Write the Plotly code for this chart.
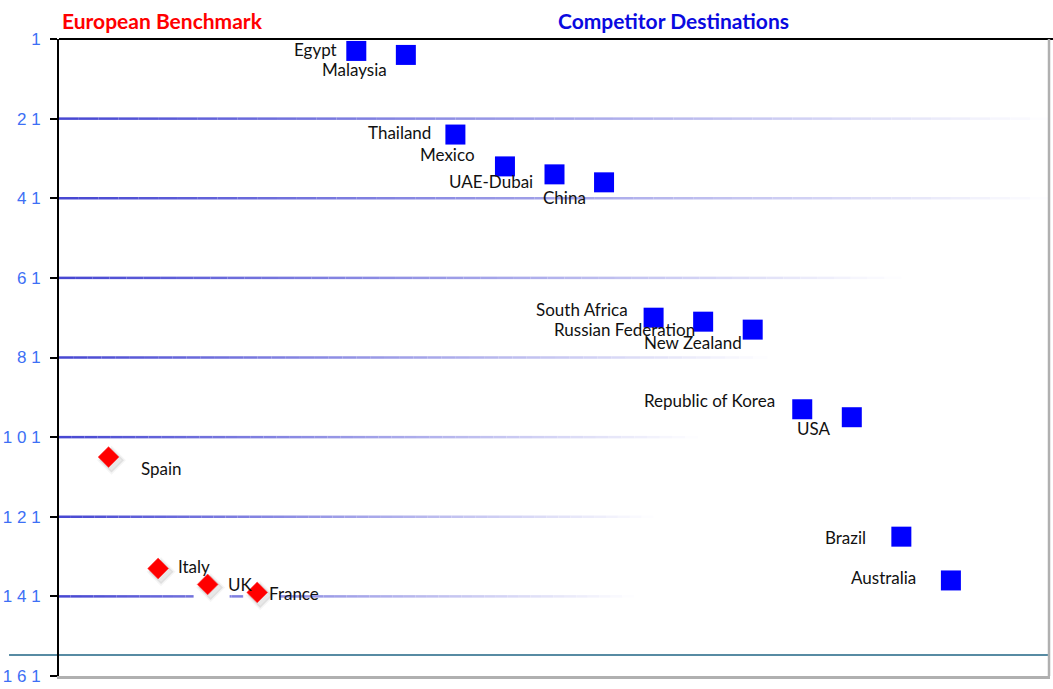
import plotly.graph_objects as go

# European benchmark destinations
eu_names = ["Spain", "Italy", "UK", "France"]
eu_pos = [1, 2, 3, 4]
eu_rank = [106, 134, 138, 140]

# Competitor destinations
comp_names = ["Egypt", "Malaysia", "Thailand", "Mexico", "UAE-Dubai", "China",
               "South Africa", "Russian Federation", "New Zealand",
               "Republic of Korea", "USA", "Brazil", "Australia"]
comp_pos = [6, 7, 8, 9, 10, 11, 12, 13, 14, 15, 16, 17, 18]
comp_rank = [4, 5, 25, 33, 35, 37, 71, 72, 74, 94, 96, 126, 137]

# Rank axis
tick_vals = [1, 21, 41, 61, 81, 101, 121, 141, 161]
tick_text = ["1", "2 1", "4 1", "6 1", "8 1", "1 0 1", "1 2 1", "1 4 1", "1 6 1"]
grid_vals = [21, 41, 61, 81, 101, 121, 141]
grid_ends = [20, 20, 17.0, 14.3, 12.9, 12.0, 11.6]
cutoff_rank = 155.75

# label placement (pixel shifts, anchor side)
comp_label_shift = [(-17, 1), (-17, -15), (-22, 2), (-28, 12), (-20, -7), (-16, -15),
                    (-24, 8), (-6, -8), (-9, -13), (-25, 9), (-19, -11), (-33, -1), (-33, 3)]
eu_label_shift = [(30, -11), (18, 2), (18, 0), (10, -1)]

X_MAX = 20
fig = go.Figure()

# gradient grid lines: dark blue fading to white along each line
shapes = []
n_seg = 50
c0 = (70, 70, 210)
for v, xe in zip(grid_vals, grid_ends):
    for i in range(n_seg):
        t0 = i / n_seg
        t1 = (i + 1) / n_seg
        tm = (t0 + t1) / 2
        col = tuple(int(round(c + (255 - c) * tm)) for c in c0)
        shapes.append(dict(type="line", xref="x", yref="y", layer="below",
                           x0=xe * t0, x1=xe * t1, y0=v, y1=v,
                           line=dict(color="rgb(%d,%d,%d)" % col, width=2.5)))

# cutoff line reaching into the left margin
shapes.append(dict(type="line", xref="paper", yref="y", x0=-0.0504, x1=1.0,
                   y0=cutoff_rank, y1=cutoff_rank, layer="below",
                   line=dict(color="#1f6485", width=1.5)))
# frame: black top, grey right
shapes.append(dict(type="line", xref="paper", yref="paper", x0=0, x1=1.003, y0=1, y1=1,
                   line=dict(color="black", width=2)))
shapes.append(dict(type="line", xref="paper", yref="paper", x0=0.999, x1=0.999, y0=0, y1=1,
                   line=dict(color="#b0b0b0", width=2.5)))

# white backing tiles behind the diamonds
fig.add_trace(go.Scatter(x=[p + 0.08 for p in eu_pos], y=eu_rank, mode="markers",
                         marker=dict(symbol="square", size=36, color="white"),
                         hoverinfo="skip", showlegend=False))
# soft shadow of diamonds
fig.add_trace(go.Scatter(x=[p + 0.06 for p in eu_pos], y=[r + 0.8 for r in eu_rank],
                         mode="markers",
                         marker=dict(symbol="diamond", size=19, color="rgba(90,90,90,0.14)",
                                     line=dict(width=3, color="rgba(120,120,120,0.07)")),
                         hoverinfo="skip", showlegend=False))
fig.add_trace(go.Scatter(x=eu_pos, y=eu_rank, mode="markers", name="European Benchmark",
                         marker=dict(symbol="diamond", size=16, color="#ff0000",
                                     line=dict(width=1, color="rgba(255,60,60,0.6)")),
                         showlegend=False))
fig.add_trace(go.Scatter(x=comp_pos, y=comp_rank, mode="markers", name="Competitor Destinations",
                         marker=dict(symbol="square", size=20, color="#0000ff",
                                     line=dict(width=0)),
                         showlegend=False))

annotations = []
label_font = dict(family="Lato", size=17, color="#111111")
for name, x, y, (dx, dy) in zip(comp_names, comp_pos, comp_rank, comp_label_shift):
    annotations.append(dict(x=x, y=y, xref="x", yref="y", text=name, showarrow=False,
                            xanchor="right", yanchor="middle", xshift=dx, yshift=dy,
                            font=label_font))
for name, x, y, (dx, dy) in zip(eu_names, eu_pos, eu_rank, eu_label_shift):
    annotations.append(dict(x=x, y=y, xref="x", yref="y", text=name, showarrow=False,
                            xanchor="left", yanchor="middle", xshift=dx, yshift=dy,
                            font=label_font))

annotations.append(dict(x=0.1048, y=1.0297, xref="paper", yref="paper",
                        text="<b>European Benchmark</b>", showarrow=False,
                        xanchor="center", yanchor="middle",
                        font=dict(family="Lato", size=21, color="#ff0000")))
annotations.append(dict(x=0.62, y=1.0297, xref="paper", yref="paper",
                        text="<b>Competitor Destinations</b>", showarrow=False,
                        xanchor="center", yanchor="middle",
                        font=dict(family="Lato", size=21, color="#0a0ae0")))

fig.update_layout(
    width=1053, height=689,
    margin=dict(l=58, r=3, t=39, b=10),
    paper_bgcolor="white", plot_bgcolor="white",
    shapes=shapes, annotations=annotations,
    xaxis=dict(range=[0, X_MAX], showgrid=False, zeroline=False, showticklabels=False,
               ticks="", showline=True, linecolor="#b0b0b0", linewidth=3),
    yaxis=dict(range=[161, 1], showgrid=False, zeroline=False,
               tickmode="array", tickvals=tick_vals, ticktext=tick_text,
               ticks="outside", ticklen=7, tickwidth=2, tickcolor="black",
               showline=True, linecolor="black", linewidth=2,
               tickfont=dict(family="Liberation Sans", size=17, color="#3d6ff5"),
               ticklabelstandoff=6),
)

fig.write_html("out.html")
